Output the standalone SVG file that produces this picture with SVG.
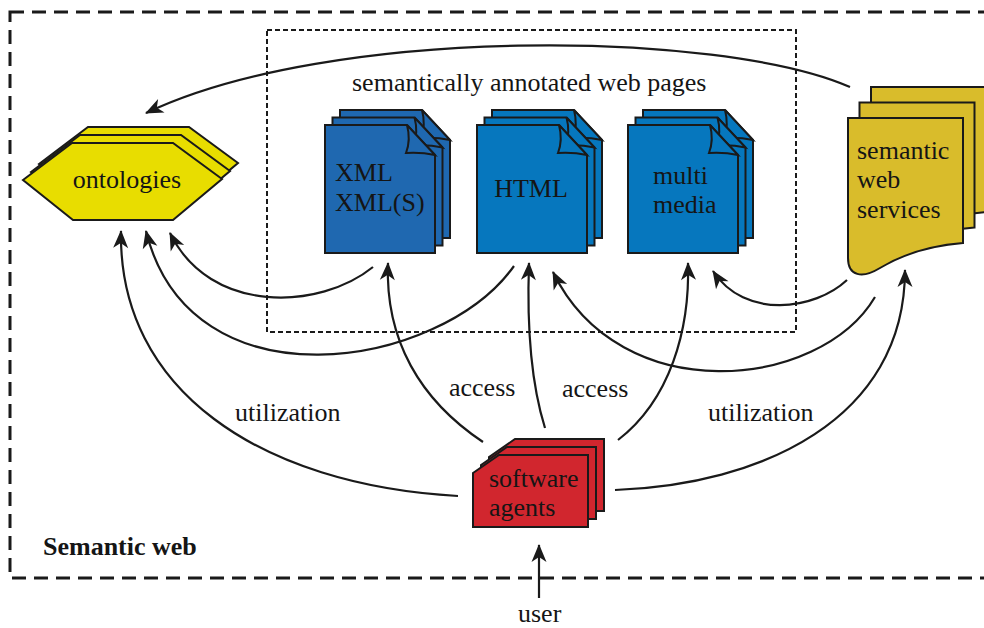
<svg xmlns="http://www.w3.org/2000/svg" xmlns:xlink="http://www.w3.org/1999/xlink" width="984" height="628" viewBox="0 0 984 628">
  <style>
    text { font-family: "Liberation Serif", "Times New Roman", serif; font-size: 26px; fill: #151515; }
    .bold { font-weight: bold; }
    .shape { stroke: #1a1a1a; stroke-width: 2; stroke-linejoin: miter; }
    .conn { fill: none; stroke: #1a1a1a; stroke-width: 2.2; marker-end: url(#ah); }
    .frame { fill: none; stroke: #1a1a1a; stroke-width: 3; stroke-dasharray: 14 8; }
    .box { fill: none; stroke: #1a1a1a; stroke-width: 2; stroke-dasharray: 5 3; }
  </style>
  <defs>
    <marker id="ah" markerUnits="userSpaceOnUse" viewBox="-20 -10 24 20" markerWidth="24" markerHeight="20" refX="-1" refY="0" orient="auto" overflow="visible">
      <path d="M0,0 L-18,-7.5 L-13,0 L-18,7.5 Z" fill="#1a1a1a"/>
    </marker>
    <!-- hexagon used for the ontology stack -->
    <polygon id="hex" class="shape" points="23,180 72,143 173,143 222,179 173,220 73,220"/>
    <!-- document page with a curled corner -->
    <g id="page">
      <path class="shape" d="M0,0 H82 L110,30 V128 H0 Z"/>
      <path class="shape" d="M82,0 Q86,15 81,28 Q96,27 110,30 Z"/>
    </g>
    <!-- service sheet with a wavy bottom edge -->
    <path id="wave" class="shape" d="M0,0 H115 V125 C77,128 52,138 32,150 C14,161 0,158 0,140 Z"/>
    <!-- card with a cut corner for the agents -->
    <path id="card" class="shape" d="M0,18 L26,0 H115 V72 H0 Z"/>
  </defs>

  <!-- outer boundary of the semantic web -->
  <rect class="frame" x="10" y="12" width="990" height="566"/>
  <text class="bold" x="43" y="555">Semantic web</text>

  <!-- area holding the annotated pages -->
  <g id="web-pages">
    <rect class="box" x="267" y="30" width="529" height="302"/>
    <text x="352" y="91">semantically annotated web pages</text>
  </g>

  <g id="ontologies" fill="#e8dd00">
    <use xlink:href="#hex" transform="translate(16,-16)"/>
    <use xlink:href="#hex" transform="translate(8,-8)"/>
    <use xlink:href="#hex"/>
    <text x="127" y="188" text-anchor="middle">ontologies</text>
  </g>

  <g id="xml" fill="#1f68b0">
    <use xlink:href="#page" transform="translate(340,110)"/>
    <use xlink:href="#page" transform="translate(332.5,117.5)"/>
    <use xlink:href="#page" transform="translate(325,125)"/>
    <text x="335" y="181">XML</text>
    <text x="335" y="211">XML(S)</text>
  </g>

  <g id="html" fill="#0677be">
    <use xlink:href="#page" transform="translate(492,110)"/>
    <use xlink:href="#page" transform="translate(484.5,117.5)"/>
    <use xlink:href="#page" transform="translate(477,125)"/>
    <text x="531" y="197" text-anchor="middle">HTML</text>
  </g>

  <g id="multimedia" fill="#0677be">
    <use xlink:href="#page" transform="translate(643,110)"/>
    <use xlink:href="#page" transform="translate(635.5,117.5)"/>
    <use xlink:href="#page" transform="translate(628,125)"/>
    <text x="653" y="184">multi</text>
    <text x="653" y="213">media</text>
  </g>

  <g id="services" fill="#d9bc2b">
    <use xlink:href="#wave" transform="translate(871,87)"/>
    <use xlink:href="#wave" transform="translate(859.5,102.5)"/>
    <use xlink:href="#wave" transform="translate(848,118)"/>
    <text x="857" y="159">semantic</text>
    <text x="857" y="188">web</text>
    <text x="857" y="218">services</text>
  </g>

  <g id="agents" fill="#d1262e">
    <use xlink:href="#card" transform="translate(489,439)"/>
    <use xlink:href="#card" transform="translate(481,447)"/>
    <use xlink:href="#card" transform="translate(473,455)"/>
    <text x="489" y="487">software</text>
    <text x="489" y="516">agents</text>
  </g>

  <g id="connectors">
    <path class="conn" d="M850,87 C720,30 330,25 146,113"/>
    <path class="conn" d="M458,496 C260,485 118,390 121,231"/>
    <path class="conn" d="M514,266 C440,370 190,410 146,231"/>
    <path class="conn" d="M373,267 C320,310 210,315 170,233"/>
    <path class="conn" d="M483,442 C420,400 385,340 388,263"/>
    <path class="conn" d="M545,428 C530,380 527,320 529,263"/>
    <path class="conn" d="M618,440 C670,400 690,330 688,263"/>
    <path class="conn" d="M847,280 C815,310 745,320 713,271"/>
    <path class="conn" d="M875,297 C820,390 620,410 553,272"/>
    <path class="conn" d="M615,490 C760,485 905,420 905,270"/>
    <path class="conn" d="M539,598 V545"/>
  </g>

  <g id="labels">
    <text x="449" y="396">access</text>
    <text x="562" y="397">access</text>
    <text x="235" y="421">utilization</text>
    <text x="708" y="421">utilization</text>
    <text x="518" y="622">user</text>
  </g>
</svg>
